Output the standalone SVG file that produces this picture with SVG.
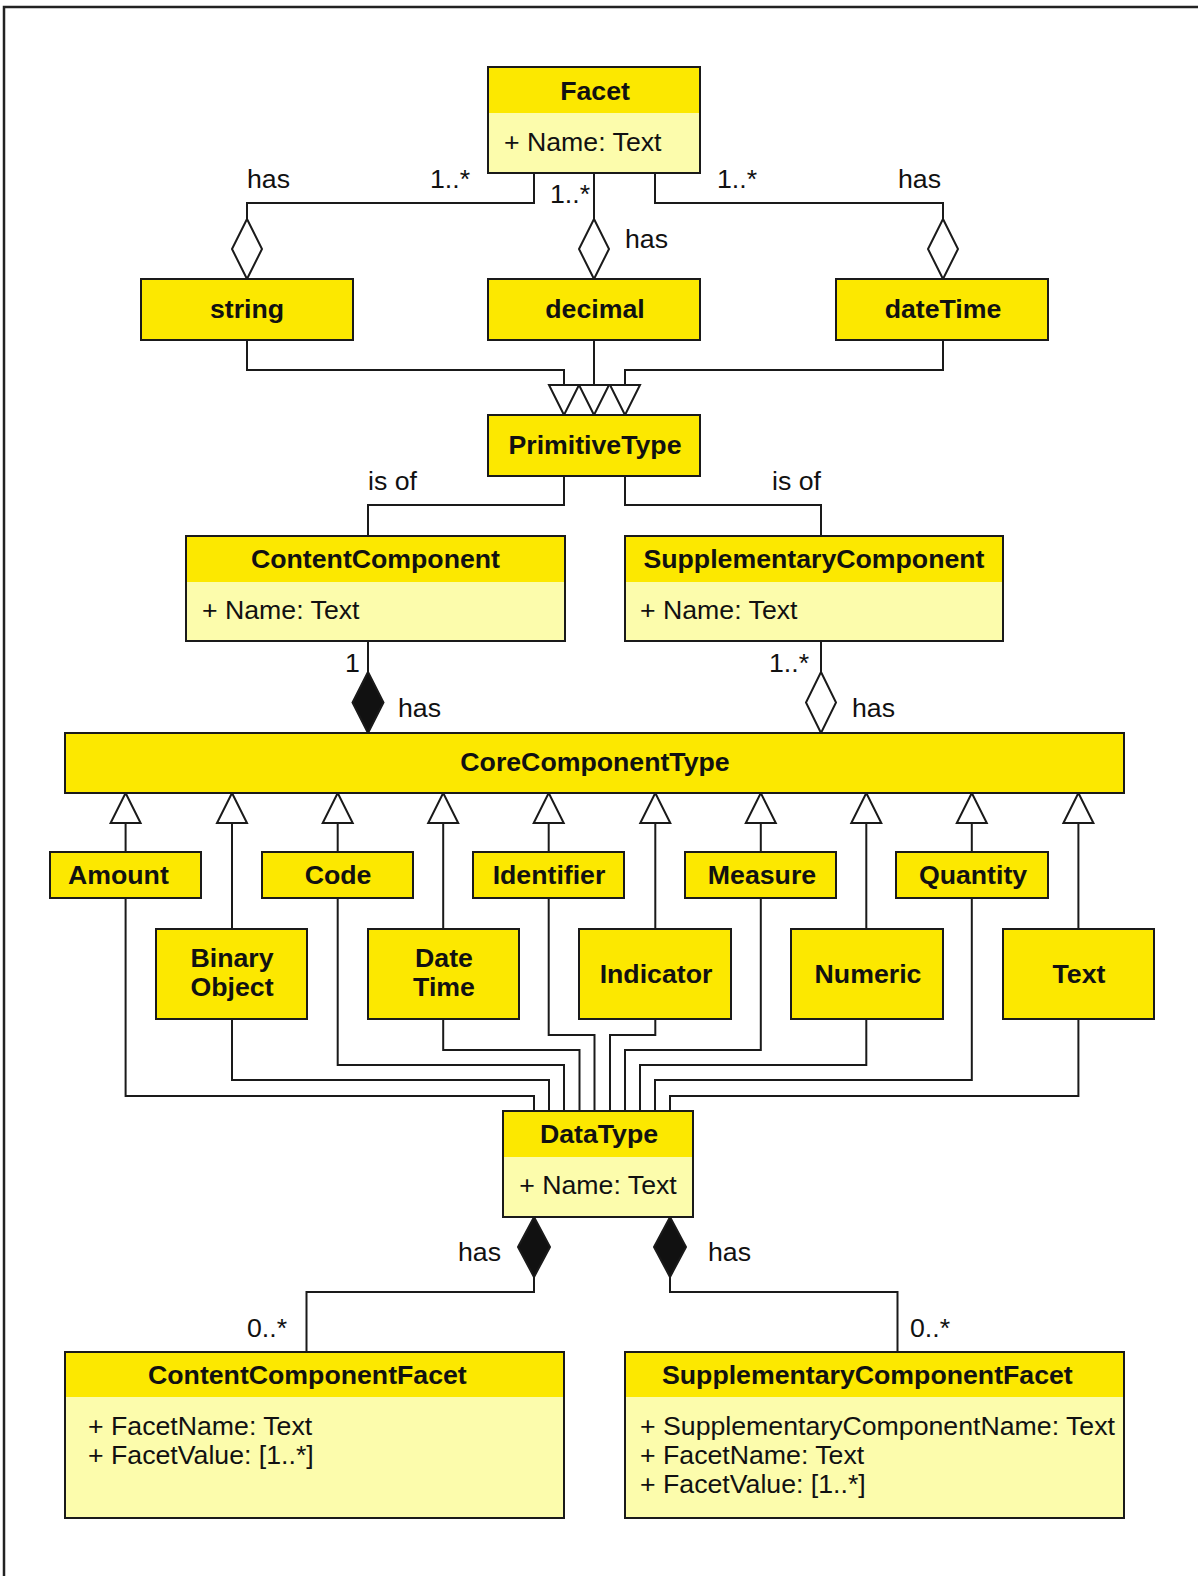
<svg xmlns="http://www.w3.org/2000/svg" width="1198" height="1576" viewBox="0 0 1198 1576">
<style>
.hd{fill:#FCE800}
.bd{fill:#FCFCAC}
.ol{fill:none;stroke:#1a1a1a;stroke-width:2}
.yb{fill:#FCE800;stroke:#1a1a1a;stroke-width:2}
.t{font-family:"Liberation Sans",Arial,Helvetica,sans-serif;font-size:26.7px;fill:#111}
.b{font-weight:bold}
.c{text-anchor:middle}
.ln{fill:none;stroke:#1a1a1a;stroke-width:2}
.od{fill:#fff;stroke:#1a1a1a;stroke-width:2}
.fd{fill:#111;stroke:#1a1a1a;stroke-width:2}
.tri{fill:#fff;stroke:#1a1a1a;stroke-width:2}
</style>
<rect width="1198" height="1576" fill="#fff"/>
<path d="M4,1576 V7 H1198" fill="none" stroke="#222" stroke-width="2.5"/>

<g id="connectors">
  <path class="ln" d="M534,173 V203 H247 V219"/>
  <path class="ln" d="M594,173 V219"/>
  <path class="ln" d="M655,173 V203 H943 V219"/>
  <polygon class="od" points="247,219 262,249 247,279 232,249"/>
  <polygon class="od" points="594,219 609,249 594,279 579,249"/>
  <polygon class="od" points="943,219 958,249 943,279 928,249"/>
  <path class="ln" d="M247,340 V370 H564 V385"/>
  <path class="ln" d="M594,340 V385"/>
  <path class="ln" d="M943,340 V370 H625 V385"/>
  <polygon class="tri" points="549,385 579,385 564,415"/>
  <polygon class="tri" points="579,385 609,385 594,415"/>
  <polygon class="tri" points="610,385 640,385 625,415"/>
  <path class="ln" d="M564,476 V505 H368 V536"/>
  <path class="ln" d="M625,476 V505 H821 V536"/>
  <path class="ln" d="M368,641 V672"/>
  <polygon class="fd" points="368,672 383.5,702.5 368,733 352.5,702.5"/>
  <path class="ln" d="M821,641 V672"/>
  <polygon class="od" points="821,672 836,702.5 821,733 806,702.5"/>
  <path class="ln" d="M125.6,823 V852 M232,823 V929 M337.7,823 V852 M443.2,823 V929 M548.7,823 V852 M655.3,823 V929 M760.8,823 V852 M866.3,823 V929 M971.8,823 V852 M1078.4,823 V929"/>
  <polygon class="tri" points="125.6,793 140.6,823 110.6,823"/>
  <polygon class="tri" points="232,793 247,823 217,823"/>
  <polygon class="tri" points="337.7,793 352.7,823 322.7,823"/>
  <polygon class="tri" points="443.2,793 458.2,823 428.2,823"/>
  <polygon class="tri" points="548.7,793 563.7,823 533.7,823"/>
  <polygon class="tri" points="655.3,793 670.3,823 640.3,823"/>
  <polygon class="tri" points="760.8,793 775.8,823 745.8,823"/>
  <polygon class="tri" points="866.3,793 881.3,823 851.3,823"/>
  <polygon class="tri" points="971.8,793 986.8,823 956.8,823"/>
  <polygon class="tri" points="1078.4,793 1093.4,823 1063.4,823"/>
  <path class="ln" d="M125.6,898 V1096 H534 V1111"/>
  <path class="ln" d="M232,1019 V1080 H549 V1111"/>
  <path class="ln" d="M337.7,898 V1065 H564 V1111"/>
  <path class="ln" d="M443.2,1019 V1050 H579.5 V1111"/>
  <path class="ln" d="M548.7,898 V1035 H594.5 V1111"/>
  <path class="ln" d="M655.3,1019 V1035 H610 V1111"/>
  <path class="ln" d="M760.8,898 V1050 H625 V1111"/>
  <path class="ln" d="M866.3,1019 V1065 H640 V1111"/>
  <path class="ln" d="M971.8,898 V1080 H655 V1111"/>
  <path class="ln" d="M1078.4,1019 V1096 H670 V1111"/>
  <polygon class="fd" points="534,1217 550,1247 534,1277 518,1247"/>
  <path class="ln" d="M534,1277 V1292 H306.5 V1352"/>
  <polygon class="fd" points="670,1217 686,1247 670,1277 654,1247"/>
  <path class="ln" d="M670,1277 V1292 H897.5 V1352"/>
</g>

<g id="labels" class="t">
  <text x="247" y="188">has</text>
  <text x="430" y="188">1..*</text>
  <text x="550" y="203">1..*</text>
  <text x="625" y="248">has</text>
  <text x="717" y="188">1..*</text>
  <text x="898" y="188">has</text>
  <text x="368" y="490">is of</text>
  <text x="772" y="490">is of</text>
  <text x="345" y="672">1</text>
  <text x="398" y="717">has</text>
  <text x="769" y="672">1..*</text>
  <text x="852" y="717">has</text>
  <text x="458" y="1261">has</text>
  <text x="708" y="1261">has</text>
  <text x="247" y="1337">0..*</text>
  <text x="910" y="1337">0..*</text>
</g>

<g id="Facet">
  <rect class="bd" x="488" y="67" width="212" height="106"/>
  <rect class="hd" x="488" y="67" width="212" height="46"/>
  <rect class="ol" x="488" y="67" width="212" height="106"/>
  <text class="t b c" x="595" y="100">Facet</text>
  <text class="t" x="504" y="151">+ Name: Text</text>
</g>
<g id="string">
  <rect class="yb" x="141" y="279" width="212" height="61"/>
  <text class="t b c" x="247" y="318">string</text>
</g>
<g id="decimal">
  <rect class="yb" x="488" y="279" width="212" height="61"/>
  <text class="t b c" x="595" y="318">decimal</text>
</g>
<g id="dateTime">
  <rect class="yb" x="836" y="279" width="212" height="61"/>
  <text class="t b c" x="943" y="318">dateTime</text>
</g>
<g id="PrimitiveType">
  <rect class="yb" x="488" y="415" width="212" height="61"/>
  <text class="t b c" x="595" y="454">PrimitiveType</text>
</g>
<g id="ContentComponent">
  <rect class="bd" x="186" y="536" width="379" height="105"/>
  <rect class="hd" x="186" y="536" width="379" height="46"/>
  <rect class="ol" x="186" y="536" width="379" height="105"/>
  <text class="t b c" x="375.5" y="568">ContentComponent</text>
  <text class="t" x="202" y="619">+ Name: Text</text>
</g>
<g id="SupplementaryComponent">
  <rect class="bd" x="625" y="536" width="378" height="105"/>
  <rect class="hd" x="625" y="536" width="378" height="46"/>
  <rect class="ol" x="625" y="536" width="378" height="105"/>
  <text class="t b c" x="814" y="568">SupplementaryComponent</text>
  <text class="t" x="640" y="619">+ Name: Text</text>
</g>
<g id="CoreComponentType">
  <rect class="yb" x="65" y="733" width="1059" height="60"/>
  <text class="t b c" x="595" y="771">CoreComponentType</text>
</g>
<g id="Amount">
  <rect class="yb" x="50" y="852" width="151" height="46"/>
  <text class="t b" x="68" y="884">Amount</text>
</g>
<g id="BinaryObject">
  <rect class="yb" x="156" y="929" width="151" height="90"/>
  <text class="t b c" x="232" y="967">Binary</text>
  <text class="t b c" x="232" y="996">Object</text>
</g>
<g id="Code">
  <rect class="yb" x="262" y="852" width="151" height="46"/>
  <text class="t b c" x="338" y="884">Code</text>
</g>
<g id="DateTime">
  <rect class="yb" x="368" y="929" width="151" height="90"/>
  <text class="t b c" x="444" y="967">Date</text>
  <text class="t b c" x="444" y="996">Time</text>
</g>
<g id="Identifier">
  <rect class="yb" x="473" y="852" width="151" height="46"/>
  <text class="t b c" x="549" y="884">Identifier</text>
</g>
<g id="Indicator">
  <rect class="yb" x="579" y="929" width="152" height="90"/>
  <text class="t b c" x="656" y="983">Indicator</text>
</g>
<g id="Measure">
  <rect class="yb" x="685" y="852" width="151" height="46"/>
  <text class="t b c" x="762" y="884">Measure</text>
</g>
<g id="Numeric">
  <rect class="yb" x="791" y="929" width="152" height="90"/>
  <text class="t b c" x="868" y="983">Numeric</text>
</g>
<g id="Quantity">
  <rect class="yb" x="896" y="852" width="152" height="46"/>
  <text class="t b c" x="973" y="884">Quantity</text>
</g>
<g id="Text">
  <rect class="yb" x="1003" y="929" width="151" height="90"/>
  <text class="t b c" x="1079" y="983">Text</text>
</g>
<g id="DataType">
  <rect class="bd" x="503" y="1111" width="190" height="106"/>
  <rect class="hd" x="503" y="1111" width="190" height="46"/>
  <rect class="ol" x="503" y="1111" width="190" height="106"/>
  <text class="t b c" x="599" y="1143">DataType</text>
  <text class="t c" x="598" y="1194">+ Name: Text</text>
</g>
<g id="ContentComponentFacet">
  <rect class="bd" x="65" y="1352" width="499" height="166"/>
  <rect class="hd" x="65" y="1352" width="499" height="45"/>
  <rect class="ol" x="65" y="1352" width="499" height="166"/>
  <text class="t b" x="148" y="1384">ContentComponentFacet</text>
  <text class="t" x="88" y="1435">+ FacetName: Text</text>
  <text class="t" x="88" y="1464">+ FacetValue: [1..*]</text>
</g>
<g id="SupplementaryComponentFacet">
  <rect class="bd" x="625" y="1352" width="499" height="166"/>
  <rect class="hd" x="625" y="1352" width="499" height="45"/>
  <rect class="ol" x="625" y="1352" width="499" height="166"/>
  <text class="t b" x="662" y="1384">SupplementaryComponentFacet</text>
  <text class="t" x="640" y="1435">+ SupplementaryComponentName: Text</text>
  <text class="t" x="640" y="1464">+ FacetName: Text</text>
  <text class="t" x="640" y="1493">+ FacetValue: [1..*]</text>
</g>
</svg>
